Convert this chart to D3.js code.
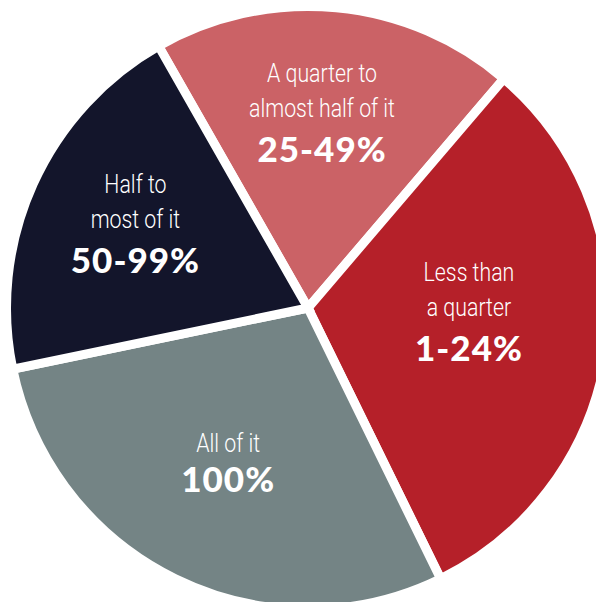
<!DOCTYPE html>
<html>
<head>
<meta charset="utf-8">
<script src="https://cdn.jsdelivr.net/npm/d3@7"></script>
<style>
  html, body { margin: 0; padding: 0; background: #ffffff; overflow: hidden; }
  svg { display: block; }
  .desc { font-family: Roboto, "DejaVu Sans Condensed", sans-serif; font-weight: 300; font-size: 26px; fill: #ffffff; }
  .range { font-family: Lato, "DejaVu Sans", sans-serif; font-weight: 900; font-size: 35px; letter-spacing: 1px; fill: #ffffff; }
</style>
</head>
<body>
<svg id="chart" width="596" height="602"></svg>
<script>
// Share of respondents per answer bucket, clockwise from the top slice
const ranges = ["25-49%", "1-24%", "100%", "50-99%"];
const descriptions = [
  ["A quarter to", "almost half of it"],
  ["Less than", "a quarter"],
  ["All of it"],
  ["Half to", "most of it"]
];
const shares = [19.5, 31.5, 29, 20];

const cx = 308, cy = 308;
const radius = 297;
const gap = 9;
const descSqueeze = 0.82;

const palette = ["#CB6266", "#B52029", "#748485", "#13152B"];
const color = d3.scaleOrdinal().domain(ranges).range(palette);

// label anchor: distance from centre and angle nudge (degrees) per slice
const labelLayout = [
  { r: 196, nudge: -1.3 },
  { r: 161, nudge: -5.8 },
  { r: 174, nudge: 1.2 },
  { r: 192, nudge: 1.7 }
];

const rows = ranges.map((r, i) => ({ range: r, desc: descriptions[i], share: shares[i] }));

const startDeg = -29.7;
const pie = d3.pie()
  .sort(null)
  .value(d => d.share)
  .startAngle(startDeg * Math.PI / 180)
  .endAngle((startDeg + 360) * Math.PI / 180);

const arc = d3.arc().innerRadius(0).outerRadius(radius + gap / 2);

const svg = d3.select("#chart");
const g = svg.append("g").attr("transform", `translate(${cx},${cy})`);

const arcs = pie(rows);

g.selectAll("path.slice")
  .data(arcs)
  .join("path")
  .attr("class", "slice")
  .attr("d", arc)
  .attr("fill", d => color(d.data.range))
  .attr("stroke", "#ffffff")
  .attr("stroke-width", gap)
  .attr("stroke-linejoin", "miter");

const labels = g.selectAll("g.label")
  .data(arcs)
  .join("g")
  .attr("class", "label")
  .attr("transform", (d, i) => {
    const mid = (d.startAngle + d.endAngle) / 2 + labelLayout[i].nudge * Math.PI / 180;
    const r = labelLayout[i].r;
    return `translate(${r * Math.sin(mid)},${-r * Math.cos(mid)})`;
  });

labels.each(function(d) {
  const sel = d3.select(this);
  const lines = d.data.desc;
  const lineStep = 35;
  const numGap = lines.length > 1 ? 45 : 40;
  const capH = 18;
  const total = capH + lineStep * (lines.length - 1) + numGap;
  const top = -total / 2;
  lines.forEach((t, k) => {
    sel.append("text")
      .attr("class", "desc")
      .attr("text-anchor", "middle")
      .attr("transform", `translate(0,${top + capH + k * lineStep}) scale(${descSqueeze},1)`)
      .text(t);
  });
  sel.append("text")
    .attr("class", "range")
    .attr("text-anchor", "middle")
    .attr("y", top + capH + lineStep * (lines.length - 1) + numGap)
    .text(d.data.range);
});
</script>
</body>
</html>
